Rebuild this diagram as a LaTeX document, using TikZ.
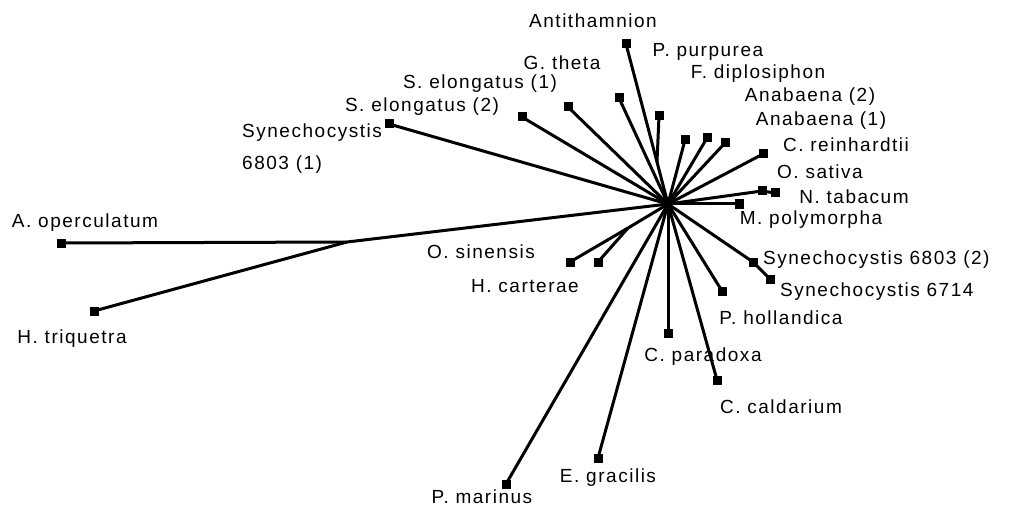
\documentclass[tikz,border=0pt]{standalone}
\usepackage{fontspec}
\setmainfont{Liberation Sans}[LetterSpace=8]
\begin{document}
\begin{tikzpicture}[x=1pt,y=-1pt,
  leaf/.style={rectangle,fill=black,minimum size=9pt,inner sep=0pt,outer sep=0pt},
  lbl/.style={inner sep=0pt,font=\fontsize{19}{22}\selectfont},
  br/.style={line width=3pt}]
\useasboundingbox (0,0) rectangle (1018,508);
\coordinate (hub) at (668,204);
\coordinate (jA) at (347,242);
\coordinate (jP) at (657,162);
\coordinate (jH) at (628,228);
% leaves
\node[leaf] (anti) at (626,44) {};
\node[leaf] (ppur) at (659,116) {};
\node[leaf] (gth) at (619,98) {};
\node[leaf] (se1) at (568,107) {};
\node[leaf] (se2) at (522,117) {};
\node[leaf] (sy1) at (389,124) {};
\node[leaf] (fdip) at (685,140) {};
\node[leaf] (ana2) at (707,138) {};
\node[leaf] (ana1) at (725,143) {};
\node[leaf] (crei) at (763,154) {};
\node[leaf] (osat) at (762,191) {};
\node[leaf] (ntab) at (775,193) {};
\node[leaf] (mpol) at (739,204) {};
\node[leaf] (sy2) at (753,262) {};
\node[leaf] (sy67) at (770,279) {};
\node[leaf] (phol) at (722,291) {};
\node[leaf] (cpar) at (668,333) {};
\node[leaf] (ccal) at (717,380) {};
\node[leaf] (egra) at (598,458) {};
\node[leaf] (pmar) at (506,484) {};
\node[leaf] (osin) at (570,262) {};
\node[leaf] (hcar) at (598,262) {};
\node[leaf] (aope) at (61,243) {};
\node[leaf] (htri) at (94,311) {};
% branches
\draw[br] (hub) -- (jP) -- (anti.center);
\draw[br] (jP) -- (ppur.center);
\draw[br] (hub) -- (gth.center);
\draw[br] (hub) -- (se1.center);
\draw[br] (hub) -- (se2.center);
\draw[br] (hub) -- (sy1.center);
\draw[br] (hub) -- (fdip.center);
\draw[br] (hub) -- (ana2.center);
\draw[br] (hub) -- (ana1.center);
\draw[br] (hub) -- (crei.center);
\draw[br] (hub) -- (osat.center) -- (ntab.center);
\draw[br] (hub) -- (mpol.center);
\draw[br] (hub) -- (sy2.center) -- (sy67.center);
\draw[br] (hub) -- (phol.center);
\draw[br] (hub) -- (cpar.center);
\draw[br] (hub) -- (ccal.center);
\draw[br] (hub) -- (egra.center);
\draw[br] (hub) -- (pmar.center);
\draw[br] (hub) -- (jH) -- (osin.center);
\draw[br] (jH) -- (hcar.center);
\draw[br] (hub) -- (jA) -- (aope.center);
\draw[br] (jA) -- (htri.center);
% labels
\node[lbl] (l-anti) at (593,21) {Antithamnion};
\node[lbl] (l-ppur) at (708,52) {P. purpurea};
\node[lbl] (l-gth) at (562,63) {G. theta};
\node[lbl] (l-se1) at (480,84) {S. elongatus (1)};
\node[lbl] (l-se2) at (422,107) {S. elongatus (2)};
\node[lbl,anchor=west] (l-sy1a) at (242,133) {Synechocystis};
\node[lbl,anchor=west] (l-sy1b) at (242,165) {6803 (1)};
\node[lbl] (l-fdip) at (758,74) {F. diplosiphon};
\node[lbl] (l-ana2) at (810,97) {Anabaena (2)};
\node[lbl] (l-ana1) at (821,121) {Anabaena (1)};
\node[lbl] (l-crei) at (846,145) {C. reinhardtii};
\node[lbl] (l-osat) at (820,172) {O. sativa};
\node[lbl] (l-ntab) at (854,197) {N. tabacum};
\node[lbl] (l-mpol) at (811,220) {M. polymorpha};
\node[lbl,anchor=west] (l-sy2) at (763,260) {Synechocystis 6803 (2)};
\node[lbl,anchor=west] (l-sy67) at (780,292) {Synechocystis 6714};
\node[lbl] (l-phol) at (781,318) {P. hollandica};
\node[lbl] (l-cpar) at (703,357) {C. paradoxa};
\node[lbl] (l-ccal) at (781,407) {C. caldarium};
\node[lbl] (l-egra) at (608,478) {E. gracilis};
\node[lbl] (l-pmar) at (482,497) {P. marinus};
\node[lbl] (l-osin) at (481,252) {O. sinensis};
\node[lbl] (l-hcar) at (525,286) {H. carterae};
\node[lbl] (l-aope) at (85,223) {A. operculatum};
\node[lbl] (l-htri) at (72,339) {H. triquetra};
\end{tikzpicture}
\end{document}
